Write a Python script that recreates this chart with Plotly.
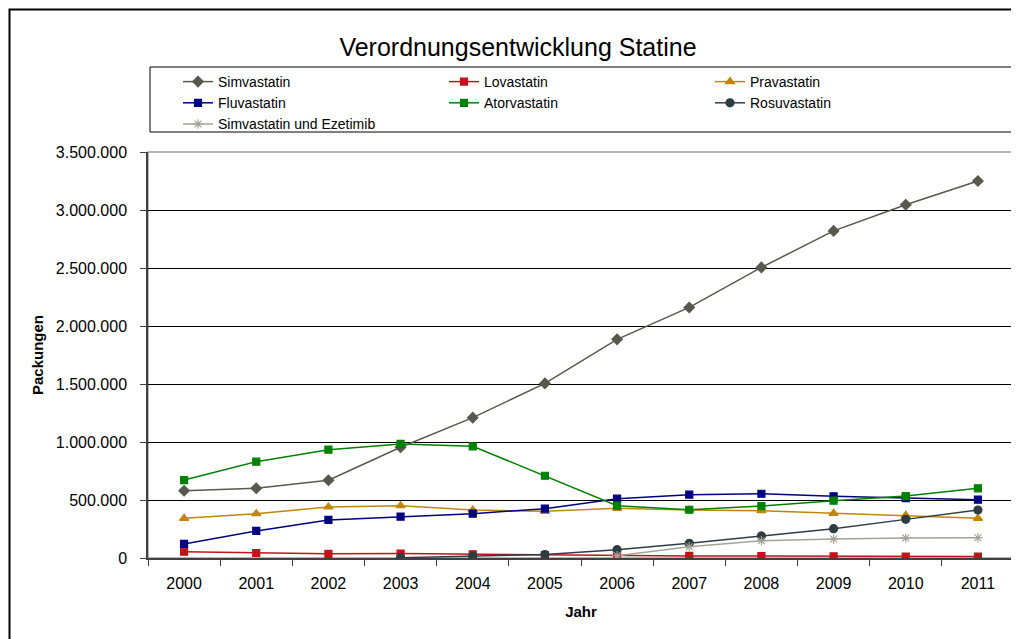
import plotly.graph_objects as go

years = ["2000", "2001", "2002", "2003", "2004", "2005", "2006", "2007", "2008", "2009", "2010", "2011"]

simvastatin = [580000, 601000, 670000, 955000, 1210000, 1505000, 1885000, 2160000, 2505000, 2820000, 3045000, 3250000]
lovastatin = [54000, 43000, 36000, 38000, 32000, 26000, 20000, 18000, 17000, 15000, 13000, 12000]
pravastatin = [342000, 382000, 440000, 451000, 414000, 402000, 428000, 414000, 408000, 385000, 368000, 342000]
fluvastatin = [121000, 233000, 328000, 356000, 382000, 425000, 511000, 546000, 554000, 532000, 517000, 503000]
atorvastatin = [672000, 830000, 934000, 983000, 963000, 709000, 451000, 416000, 448000, 494000, 534000, 601000]
rosuvastatin = [None, None, None, 3000, 17000, 30000, 72000, 127000, 190000, 253000, 333000, 414000]
simva_ezetimib = [None, None, None, None, None, None, 20000, 97000, 149000, 164000, 172000, 175000]

series = [
    ("Simvastatin", simvastatin, "#58584F", "diamond", 8),
    ("Lovastatin", lovastatin, "#C0141C", "square", 7),
    ("Pravastatin", pravastatin, "#C0860A", "triangle-up", 8),
    ("Fluvastatin", fluvastatin, "#000080", "square", 7),
    ("Atorvastatin", atorvastatin, "#008000", "square", 7),
    ("Rosuvastatin", rosuvastatin, "#2E3D44", "circle", 8),
    ("Simvastatin und Ezetimib", simva_ezetimib, "#A3A398", "asterisk-open", 8),
]

FONT = "Liberation Sans, Arial, sans-serif"

fig = go.Figure()
for name, vals, color, sym, size in series:
    fig.add_trace(go.Scatter(
        x=years, y=vals, name=name, mode="lines+markers",
        line=dict(color=color, width=1.5),
        marker=dict(symbol=sym, size=size, color=color, line=dict(color=color, width=1.2)),
        connectgaps=False,
    ))

W, H = 1019, 639
OFF = 8  # page body margin offset
# target plot area on screen: x 148..1014, y 152..558
SL, ST, SR, SB = 148, 152, 1014, 558
L, T = SL - OFF, ST - OFF
R = W - (SR - OFF)
B = H - (SB - OFF)
pw, ph = SR - SL, SB - ST

def px_x(x):
    return (x - SL) / pw

def px_y(y):
    return (SB - y) / ph

shapes = [
    # outer chart border
    dict(type="rect", xref="paper", yref="paper", x0=px_x(9.5), x1=px_x(1030), y0=px_y(650), y1=px_y(9.5),
         line=dict(color="#000000", width=2), fillcolor="rgba(0,0,0,0)", layer="below"),
    # legend box
    dict(type="rect", xref="paper", yref="paper", x0=px_x(150), x1=px_x(1018), y0=px_y(132), y1=px_y(67),
         line=dict(color="#000000", width=1), fillcolor="rgba(0,0,0,0)", layer="below"),
    # plot area border
    dict(type="rect", xref="paper", yref="paper", x0=0, x1=1, y0=0, y1=1,
         line=dict(color="#A0A0A0", width=1.5), fillcolor="rgba(0,0,0,0)", layer="below"),
]

fig.update_layout(
    width=W, height=H,
    margin=dict(l=L, r=R, t=T, b=B, pad=0, autoexpand=False),
    paper_bgcolor="white", plot_bgcolor="white",
    separators=",.",
    font=dict(family=FONT, size=15, color="#000000"),
    title=dict(text="Verordnungsentwicklung Statine", x=(518 - OFF) / W, xanchor="center",
               y=1 - 39 / H, yanchor="middle", font=dict(size=25, family=FONT)),
    shapes=shapes,
    showlegend=True,
    legend=dict(orientation="h", x=px_x(178), xanchor="left", y=px_y(66), yanchor="top",
                entrywidth=221, entrywidthmode="pixels", traceorder="normal",
                font=dict(size=14, family=FONT), bgcolor="rgba(0,0,0,0)",
                itemsizing="trace", tracegroupgap=0),
    xaxis=dict(type="category", range=[-0.5, 11.5], tickson="boundaries",
               ticks="outside", ticklen=6, tickcolor="#404040",
               showline=True, linecolor="#404040", linewidth=1.5,
               showgrid=False, zeroline=False, automargin=False,
               ticklabelstandoff=10,
               tickfont=dict(size=16, family=FONT),
               title=dict(text="<b>Jahr</b>", font=dict(size=15, family=FONT), standoff=16)),
    yaxis=dict(range=[0, 3500000], dtick=500000, tickformat=",d",
               ticks="outside", ticklen=6, tickcolor="#404040",
               showline=True, linecolor="#404040", linewidth=1.5,
               showgrid=True, gridcolor="#000000", gridwidth=1,
               zeroline=False, automargin=False,
               ticklabelstandoff=10,
               tickfont=dict(size=16, family=FONT),
               title=dict(text="<b>Packungen</b>", font=dict(size=15, family=FONT), standoff=9)),
)

fig.write_html("out.html")
